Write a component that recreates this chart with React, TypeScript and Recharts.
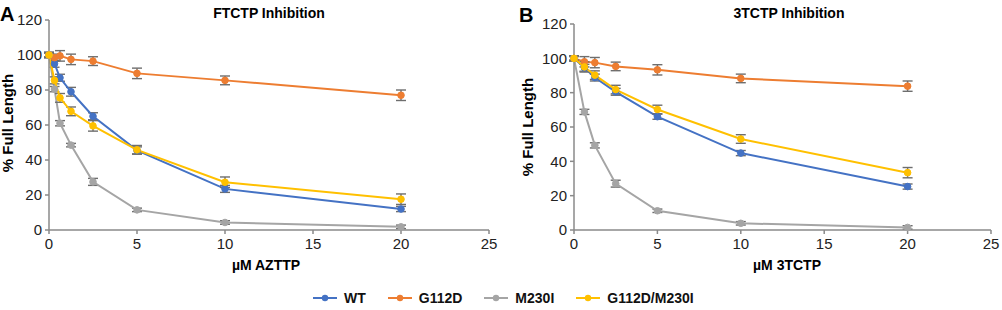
import React from 'react';
import { LineChart, Line, XAxis, YAxis, ErrorBar } from 'recharts';

// Panel A: FTCTP (AZTTP concentrations)
const concA = [0, 0.3125, 0.625, 1.25, 2.5, 5, 10, 20];
const wtA = [100, 95, 87, 79, 65, 45.5, 23.5, 12];
const g112dA = [100, 98.5, 99.5, 97.5, 96.5, 89.5, 85.5, 77];
const m230iA = [100, 80.5, 61, 48.5, 27.5, 11.5, 4.3, 1.8];
const dblA = [100, 85.5, 75.5, 67.8, 59.5, 45.8, 27.3, 17.6];
const wtErrA = [1.5, 2, 2, 2.5, 2, 2, 2, 1.5];
const g112dErrA = [1.5, 2, 3, 3, 2.5, 3, 2.5, 3];
const m230iErrA = [1, 1.5, 1.5, 1, 2, 1, 1, 1];
const dblErrA = [1.5, 2, 2.5, 2.5, 3, 2.5, 3, 3];

// Panel B: 3TCTP
const concB = [0, 0.625, 1.25, 2.5, 5, 10, 20];
const wtB = [100, 94.5, 88.8, 80.5, 66, 44.8, 25.3];
const g112dB = [100, 98, 97.5, 95.3, 93.3, 88.3, 83.8];
const m230iB = [100, 68.8, 49.3, 27, 11.2, 3.9, 1.5];
const dblB = [100, 95, 90.2, 81.8, 70.2, 53, 33.4];
const wtErrB = [1.5, 2, 2, 2, 1.5, 1.5, 1.5];
const g112dErrB = [1.5, 3, 3, 2.5, 3, 2.5, 3];
const m230iErrB = [1, 1.5, 1.5, 2, 1, 1, 1];
const dblErrB = [1.5, 3, 2.5, 2.5, 2.5, 2.5, 3];

const xTicks = [0, 5, 10, 15, 20, 25];
const yTicks = [0, 20, 40, 60, 80, 100, 120];

const seriesNames = ['WT', 'G112D', 'M230I', 'G112D/M230I'];
const seriesKeys = ['wt', 'g112d', 'm230i', 'dbl'];
const colors = ['#4472C4', '#ED7D31', '#A5A5A5', '#FFC000'];

const FONT = '"Liberation Sans", Arial, Helvetica, sans-serif';

function buildRows(conc: number[], vals: number[][], errs: number[][]) {
  return conc.map((x, i) => {
    const row: Record<string, number> = { x };
    seriesKeys.forEach((k, s) => {
      row[k] = vals[s][i];
      row[k + 'Err'] = errs[s][i];
    });
    return row;
  });
}

const dataA = buildRows(concA, [wtA, g112dA, m230iA, dblA], [wtErrA, g112dErrA, m230iErrA, dblErrA]);
const dataB = buildRows(concB, [wtB, g112dB, m230iB, dblB], [wtErrB, g112dErrB, m230iErrB, dblErrB]);

const tickStyle = { fill: '#222', fontSize: 15, fontFamily: FONT };

function LegendBox() {
  return (
    <div style={{ display: 'flex', alignItems: 'center', fontFamily: FONT, fontWeight: 'bold', fontSize: 14, color: '#111' }}>
      {seriesNames.map((name, i) => (
        <div key={name} style={{ display: 'flex', alignItems: 'center', marginRight: 22 }}>
          <svg width={24} height={10} style={{ marginRight: 7 }}>
            <line x1={0} y1={5} x2={24} y2={5} stroke={colors[i]} strokeWidth={2} />
            <circle cx={12} cy={5} r={3.2} fill={colors[i]} />
          </svg>
          <span>{name}</span>
        </div>
      ))}
    </div>
  );
}

function Panel({ data, top, width, right }: { data: Record<string, number>[]; top: number; width: number; right: number }) {
  return (
    <LineChart width={width} height={280} data={data} margin={{ top, right, left: 0, bottom: 0 }}>
      <XAxis
        type="number"
        dataKey="x"
        domain={[0, 25]}
        ticks={xTicks}
        height={50}
        stroke="#8a8a8a"
        strokeWidth={1.5}
        tickSize={4}
        tickMargin={4}
        tick={tickStyle}
      />
      <YAxis
        type="number"
        domain={[0, 120]}
        ticks={yTicks}
        width={49}
        stroke="#8a8a8a"
        strokeWidth={1.5}
        tickSize={4}
        tickMargin={3}
        tick={tickStyle}
        interval={0}
      />
      {seriesKeys.map((k, i) => (
        <Line
          key={k}
          type="linear"
          dataKey={k}
          name={seriesNames[i]}
          stroke={colors[i]}
          strokeWidth={2}
          dot={{ r: 3.3, fill: colors[i], stroke: colors[i], strokeWidth: 1 }}
          isAnimationActive={false}
        >
          <ErrorBar dataKey={k + 'Err'} direction="y" width={5} stroke="#6e6e6e" strokeWidth={1.4} />
        </Line>
      ))}
    </LineChart>
  );
}

const abs = (s: React.CSSProperties): React.CSSProperties => ({ position: 'absolute', fontFamily: FONT, ...s });

export default function App() {
  return (
    <div style={{ position: 'absolute', left: 0, top: 0, width: 1002, height: 310, background: '#fff', overflow: 'hidden' }}>
      <div style={abs({ left: 0, top: 0 })}>
        <Panel data={dataA} top={20} width={500} right={11} />
      </div>
      <div style={abs({ left: 525, top: 0 })}>
        <Panel data={dataB} top={24} width={475} right={9} />
      </div>

      {/* shared legend */}
      <div style={abs({ left: 313, top: 290 })}>
        <LegendBox />
      </div>

      {/* panel letters */}
      <div style={abs({ left: 0, top: 3, fontSize: 20, fontWeight: 'bold', lineHeight: '22px' })}>A</div>
      <div style={abs({ left: 519, top: 4, fontSize: 20, fontWeight: 'bold', lineHeight: '22px' })}>B</div>

      {/* titles */}
      <div style={abs({ left: 169, width: 200, top: 5, textAlign: 'center', fontSize: 14, fontWeight: 'bold', lineHeight: '16px' })}>
        FTCTP Inhibition
      </div>
      <div style={abs({ left: 689, width: 200, top: 5, textAlign: 'center', fontSize: 14, fontWeight: 'bold', lineHeight: '16px' })}>
        3TCTP Inhibition
      </div>

      {/* y axis titles */}
      <div style={abs({ left: 8 - 80, top: 123 - 9, width: 160, textAlign: 'center', fontSize: 15, fontWeight: 'bold', lineHeight: '18px', transform: 'rotate(-90deg)' })}>
        % Full Length
      </div>
      <div style={abs({ left: 528 - 80, top: 127 - 9, width: 160, textAlign: 'center', fontSize: 15, fontWeight: 'bold', lineHeight: '18px', transform: 'rotate(-90deg)' })}>
        % Full Length
      </div>

      {/* x axis titles */}
      <div style={abs({ left: 166, width: 200, top: 257, textAlign: 'center', fontSize: 14, fontWeight: 'bold', lineHeight: '16px' })}>
        µM AZTTP
      </div>
      <div style={abs({ left: 687, width: 200, top: 257, textAlign: 'center', fontSize: 14, fontWeight: 'bold', lineHeight: '16px' })}>
        µM 3TCTP
      </div>
    </div>
  );
}
